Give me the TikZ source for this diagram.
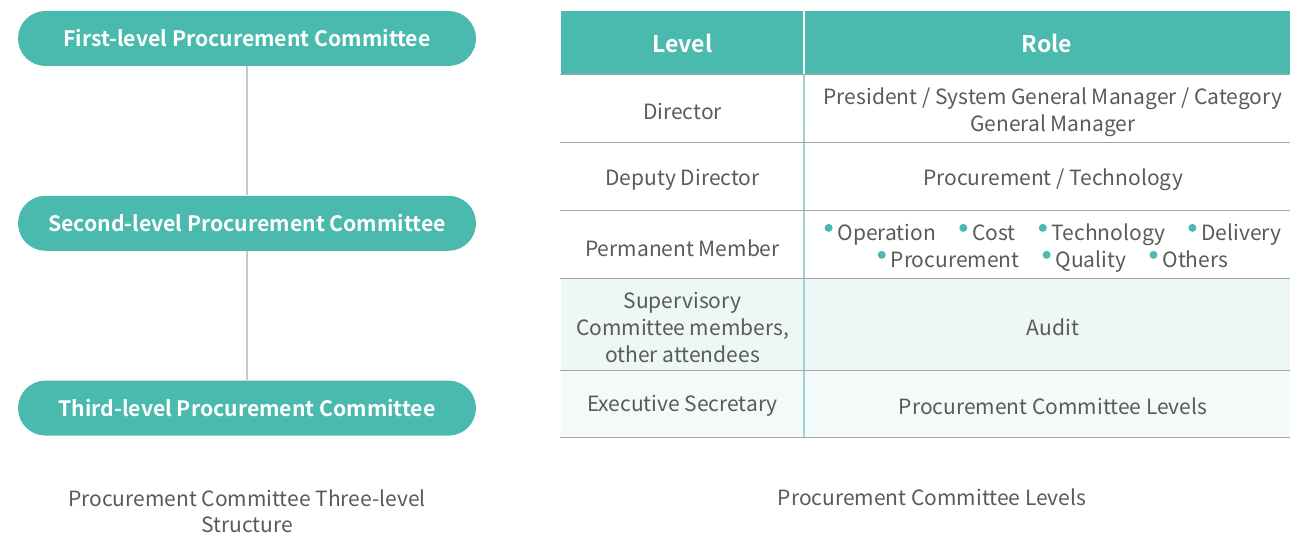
\documentclass[tikz,border=0pt]{standalone}
\usepackage{fontspec}
\setmainfont{Noto Sans CJK SC}[BoldFont={Noto Sans CJK SC Bold}]
\usetikzlibrary{positioning}
\definecolor{brand}{HTML}{4BBAAE}
\definecolor{ink}{HTML}{5A5A5A}
\definecolor{rulegray}{HTML}{A6A6A6}
\definecolor{linkgray}{HTML}{C8C8C8}
\definecolor{coltint}{HTML}{96D8CF}
\definecolor{tintA}{HTML}{EDF7F5}
\definecolor{tintB}{HTML}{F4FAF9}
\newcommand{\mdot}{\textcolor{brand}{\raisebox{0.75ex}{\tikz\fill (0,0) circle (2pt);}}\hspace{2.5pt}}

\begin{document}
\begin{tikzpicture}[x=0.5pt, y=-0.5pt,
	pill/.style={fill=brand, rounded corners=13.75pt, minimum width=229pt,
		minimum height=27.5pt, text=white, font=\fontsize{10.6}{13}\selectfont\bfseries},
	link/.style={draw=linkgray, line width=0.6pt},
	cell/.style={text=ink, align=center, font=\fontsize{10.5}{13.5}\selectfont},
	head/.style={text=white, font=\fontsize{11.5}{14}\selectfont\bfseries},
	caption/.style={text=ink, align=center, font=\fontsize{10.5}{13}\selectfont},
	hrule/.style={draw=rulegray, line width=0.5pt}
	]
	\useasboundingbox (0,0) rectangle (1290,534);

	% left: three-level structure
	\node[pill] (first) at (247,38.5) {First-level Procurement Committee};
	\node[pill, below=64.5pt of first] (second) {Second-level Procurement Committee};
	\node[pill, below=64.5pt of second] (third) {Third-level Procurement Committee};
	\draw[link] (first) -- (second);
	\draw[link] (second) -- (third);
	\node[caption] (capleft) at (247,511) {Procurement Committee Three-level\\Structure};

	% right: table
	\fill[brand] (561,11) rectangle (1290,75);
	\fill[tintA] (561,279) rectangle (1290,370);
	\fill[tintB] (561,370) rectangle (1290,437);
	\draw[white, line width=1pt] (804,11) -- (804,75);
	\draw[coltint, line width=0.6pt] (804,75) -- (804,437);
	\foreach \y in {75,143,211,279,370,437}
		\draw[hrule] (560,\y) -- (1290,\y);

	\node[head] (hlevel) at (682.5,43) {Level};
	\node[head] (hrole) at (1047,43) {Role};

	\node[cell] (director) at (682.5,112) {Director};
	\node[cell] (rdirector) at (1053,112) {President / System General Manager / Category\\General Manager};
	\node[cell] (deputy) at (682.5,180) {Deputy Director};
	\node[cell] (rdeputy) at (1053,180) {Procurement / Technology};
	\node[cell] (member) at (682.5,248) {Permanent Member};
	\node[cell] (rmember) at (1053,248) {\mdot Operation\hspace{1.1em}\mdot Cost\hspace{1.1em}\mdot Technology\hspace{1.1em}\mdot Delivery\\
		\mdot Procurement\hspace{1.1em}\mdot Quality\hspace{1.1em}\mdot Others};
	\node[cell] (super) at (682.5,327) {Supervisory\\Committee members,\\other attendees};
	\node[cell] (raudit) at (1053,327) {Audit};
	\node[cell] (secretary) at (682.5,406) {Executive Secretary};
	\node[cell] (rsecretary) at (1053,406) {Procurement Committee Levels};

	\node[caption] (capright) at (932,497) {Procurement Committee Levels};
\end{tikzpicture}
\end{document}
